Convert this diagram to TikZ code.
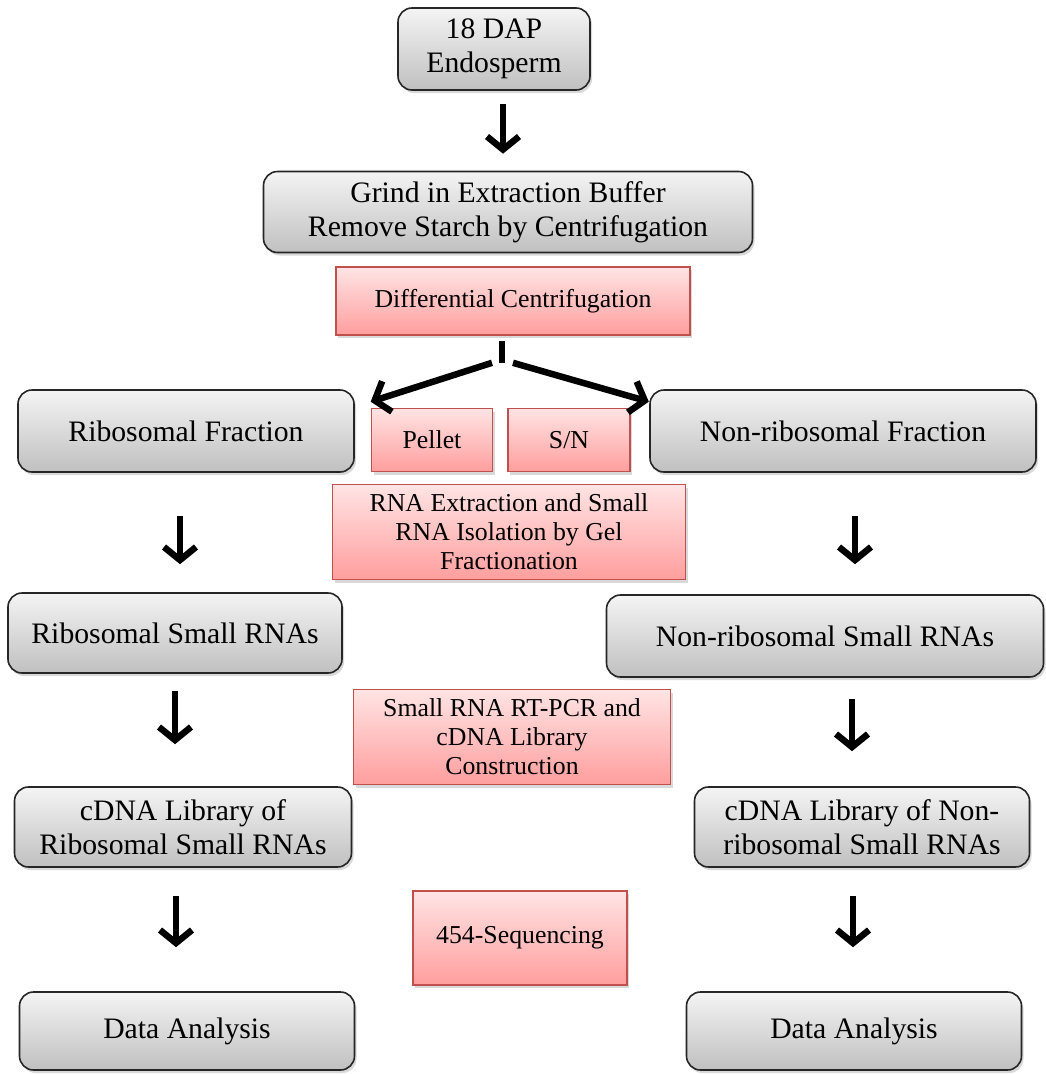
\documentclass[tikz,border=0pt]{standalone}
\usepackage{fontspec}
\setmainfont{LiberationSerif}[Extension=.ttf, UprightFont=*-Regular, BoldFont=*-Bold]
\usetikzlibrary{arrows.meta,shadows}
\definecolor{graytop}{RGB}{244,244,244}
\definecolor{graybot}{RGB}{192,192,192}
\definecolor{pinktop}{RGB}{255,228,228}
\definecolor{pinkbot}{RGB}{255,158,158}
\definecolor{pinkedge}{RGB}{192,80,77}
\tikzset{
  graybox/.style={draw=black!85, line width=1.6pt, rounded corners=14pt,
    top color=graytop, bottom color=graybot, inner sep=0pt, align=center,
    drop shadow={opacity=0.3, shadow xshift=2pt, shadow yshift=-3pt},
    font=\fontsize{29.7}{34.5}\selectfont},
  pinkbox/.style={draw=pinkedge, line width=1.6pt,
    top color=pinktop, bottom color=pinkbot, inner sep=0pt, align=center,
    drop shadow={opacity=0.3, shadow xshift=2pt, shadow yshift=-3pt},
    font=\fontsize{25.8}{29}\selectfont},
  arr/.style={line width=6.5pt, -{Straight Barb[length=13pt,width=32pt]}}
}
\begin{document}
\begin{tikzpicture}[x=1pt,y=-1pt]
\useasboundingbox (0,0) rectangle (1045,1074);
% top of the flow
\node[graybox, minimum width=192pt, minimum height=82pt] (endo) at (494,49) {18 DAP\\Endosperm};
\node[graybox, minimum width=489pt, minimum height=81pt] (grind) at (508,212) {Grind in Extraction Buffer\\Remove Starch by Centrifugation};
\node[pinkbox, minimum width=354pt, minimum height=68pt] (diff) at (513,301) {Differential Centrifugation};
\coordinate (split) at ([yshift=-27pt]diff.south);
% fractions
\node[graybox, minimum width=336pt, minimum height=82pt] (ribfrac) at (186,431) {Ribosomal Fraction};
\node[pinkbox, minimum width=121pt, minimum height=63pt] (pellet) at (432,440) {Pellet};
\node[pinkbox, minimum width=122pt, minimum height=63pt] (sn) at (569,440) {S/N};
\node[graybox, minimum width=386pt, minimum height=82pt] (nonfrac) at (843,431) {Non-ribosomal Fraction};
\node[pinkbox, minimum width=353pt, minimum height=95pt] (rnaext) at (509,532) {RNA Extraction and Small\\RNA Isolation by Gel\\Fractionation};
% small RNAs
\node[graybox, minimum width=334pt, minimum height=80pt] (ribsmall) at (175,633) {Ribosomal Small RNAs};
\node[graybox, minimum width=437pt, minimum height=82pt] (nonsmall) at (825,636) {Non-ribosomal Small RNAs};
\node[pinkbox, minimum width=317pt, minimum height=95pt] (rtpcr) at (512,737) {Small RNA RT-PCR and\\cDNA Library\\Construction};
% libraries
\node[graybox, minimum width=337pt, minimum height=80pt] (ribcdna) at (183,827) {cDNA Library of\\Ribosomal Small RNAs};
\node[graybox, minimum width=335pt, minimum height=80pt] (noncdna) at (862,827) {cDNA Library of Non-\\ribosomal Small RNAs};
\node[pinkbox, minimum width=214pt, minimum height=94pt] (seq) at (520,938) {454-Sequencing};
% analysis
\node[graybox, minimum width=335pt, minimum height=78pt] (ribdata) at (187,1031) {Data Analysis};
\node[graybox, minimum width=335pt, minimum height=78pt] (nondata) at (854,1031) {Data Analysis};

\draw[arr, shorten <=13pt, shorten >=17pt] ([xshift=9pt]endo.south) -- ([xshift=9pt]endo.south |- grind.north);
\draw[line width=6.5pt, shorten <=5pt] ([xshift=-11pt]diff.south) -- ([xshift=-11pt]split);
\draw[arr] ([xshift=-21pt]split) -- ([yshift=6pt]pellet.north west);
\draw[arr] (split) -- ([xshift=18pt,yshift=6pt]sn.north east);

\draw[arr, shorten <=43pt, shorten >=28pt] ([xshift=-6pt]ribfrac.south) -- ([xshift=-6pt]ribfrac.south |- ribsmall.north);
\draw[arr, shorten <=17pt, shorten >=42pt] (ribsmall.south) -- (ribsmall.south |- ribcdna.north);
\draw[arr, shorten <=28pt, shorten >=44pt] ([xshift=-7pt]ribcdna.south) -- ([xshift=-7pt]ribcdna.south |- ribdata.north);
\draw[arr, shorten <=43pt, shorten >=30pt] ([xshift=12pt]nonfrac.south) -- ([xshift=12pt]nonfrac.south |- nonsmall.north);
\draw[arr, shorten <=21pt, shorten >=35pt] ([xshift=27pt]nonsmall.south) -- ([xshift=27pt]nonsmall.south |- noncdna.north);
\draw[arr, shorten <=28pt, shorten >=44pt] ([xshift=-9pt]noncdna.south) -- ([xshift=-9pt]noncdna.south |- nondata.north);
\end{tikzpicture}
\end{document}
